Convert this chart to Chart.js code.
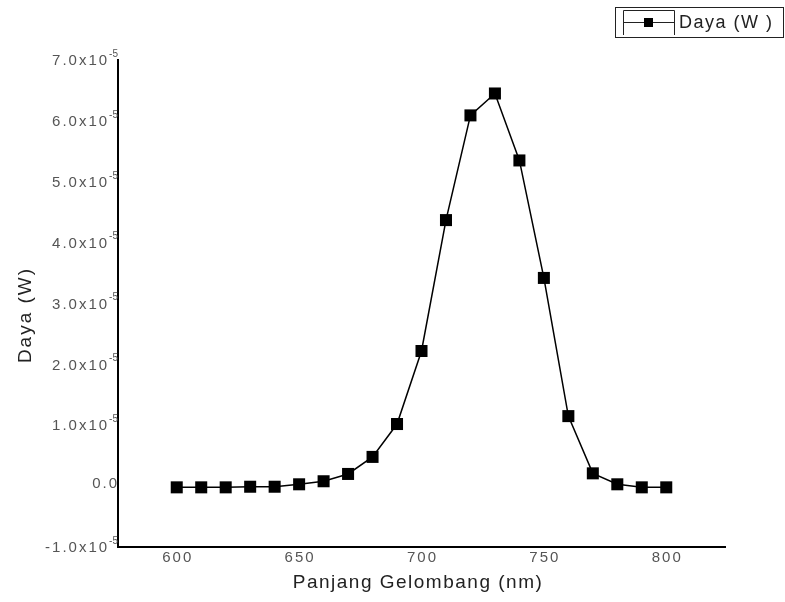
<!DOCTYPE html>
<html>
<head>
<meta charset="utf-8">
<script src="https://cdn.jsdelivr.net/npm/chart.js@4.4.1/dist/chart.umd.min.js"></script>
<style>
  html, body { margin: 0; padding: 0; background: #fff; }
  #wrap { width: 785px; height: 602px; }
</style>
</head>
<body>
<div id="wrap"><canvas id="chart" width="785" height="602"></canvas></div>
<script>
// wavelength in nm
const wavelengths = [600, 610, 620, 630, 640, 650, 660, 670, 680, 690, 700,
                     710, 720, 730, 740, 750, 760, 770, 780, 790, 800];
// power in W
const power = [-2e-7, -2e-7, -2e-7, -1e-7, -1e-7, 3e-7, 8e-7, 2.0e-6, 4.8e-6, 1.02e-5, 2.22e-5,
               4.37e-5, 6.09e-5, 6.45e-5, 5.35e-5, 3.42e-5, 1.15e-5, 2.1e-6, 3e-7, -2e-7, -2e-7];

// axis ticks
const xTicks = [600, 650, 700, 750, 800];
const yTicks = [-1e-5, 0, 1e-5, 2e-5, 3e-5, 4e-5, 5e-5, 6e-5, 7e-5];
const yTickLabels = ['-1.0x10', '0.0', '1.0x10', '2.0x10', '3.0x10', '4.0x10', '5.0x10', '6.0x10', '7.0x10'];
const yTickExp = '-5';

const seriesLabel = 'Daya (W )';
const xTitle = 'Panjang Gelombang (nm)';
const yTitle = 'Daya (W)';

const FONT = '"Liberation Sans", Arial, sans-serif';

// draws tick labels, axis titles and the boxed legend (Origin style)
const textPlugin = {
  id: 'originText',
  afterDraw(chart) {
    const ctx = chart.ctx;
    const xs = chart.scales.x, ys = chart.scales.y;
    ctx.save();

    // y tick labels with superscript exponent
    ctx.fillStyle = '#555';
    ctx.textBaseline = 'middle';
    ctx.textAlign = 'right';
    yTicks.forEach((v, i) => {
      const py = ys.getPixelForValue(v);
      const right = 117;
      if (v === 0) {
        ctx.font = '15px ' + FONT;
        ctx.letterSpacing = '2px';
        ctx.fillText(yTickLabels[i], right + 2, py - 2);
        return;
      }
      ctx.font = '10px ' + FONT;
      ctx.letterSpacing = '0px';
      const ew = ctx.measureText(yTickExp).width;
      ctx.fillText(yTickExp, right + 1, py - 6);
      ctx.font = '15px ' + FONT;
      ctx.letterSpacing = '2px';
      ctx.fillText(yTickLabels[i], right - ew + 1, py + 1);
    });

    // x tick labels
    ctx.textAlign = 'center';
    ctx.font = '15px ' + FONT;
    ctx.letterSpacing = '2px';
    xTicks.forEach(v => {
      ctx.fillText(String(v), xs.getPixelForValue(v) + 1, xs.top + 11);
    });

    // axis titles
    ctx.fillStyle = '#222';
    ctx.font = '19px ' + FONT;
    ctx.letterSpacing = '1.5px';
    ctx.fillText(xTitle, 418, 583);
    ctx.save();
    ctx.translate(26, 315);
    ctx.rotate(-Math.PI / 2);
    ctx.letterSpacing = '2px';
    ctx.fillText(yTitle, 0, 0);
    ctx.restore();

    // legend box
    ctx.strokeStyle = '#222';
    ctx.lineWidth = 1;
    ctx.strokeRect(615.5, 7.5, 168, 30);
    ctx.beginPath();
    ctx.moveTo(623.5, 35); ctx.lineTo(623.5, 10.5); ctx.lineTo(674.5, 10.5); ctx.lineTo(674.5, 35);
    ctx.moveTo(623.5, 22.5); ctx.lineTo(674.5, 22.5);
    ctx.stroke();
    ctx.fillStyle = '#000';
    ctx.fillRect(644, 18, 9, 9);
    ctx.fillStyle = '#222';
    ctx.textAlign = 'left';
    ctx.font = '18px ' + FONT;
    ctx.letterSpacing = '1.5px';
    ctx.fillText(seriesLabel, 679, 23);

    ctx.restore();
  }
};

const config = {
  type: 'line',
  data: {
    datasets: [{
      label: seriesLabel,
      data: wavelengths.map((w, i) => ({ x: w, y: power[i] })),
      borderColor: '#000',
      borderWidth: 1.5,
      backgroundColor: '#000',
      pointStyle: 'rect',
      pointRadius: 8.5,
      pointBorderWidth: 0,
      tension: 0,
      clip: false,
    }],
  },
  options: {
    responsive: false,
    animation: false,
    devicePixelRatio: 1,
    layout: { padding: { left: 0, top: 60, right: 60, bottom: 0 } },
    scales: {
      x: {
        type: 'linear',
        min: 576,
        max: 824,
        afterBuildTicks: (s) => { s.ticks = xTicks.map(v => ({ value: v })); },
        afterFit: (s) => { s.height = 55; },
        grid: { display: false },
        border: { display: true, color: '#000', width: 2 },
        ticks: { display: false },
      },
      y: {
        min: -1e-5,
        max: 7e-5,
        afterBuildTicks: (s) => { s.ticks = yTicks.map(v => ({ value: v })); },
        afterFit: (s) => { s.width = 118; },
        grid: { display: false },
        border: { display: true, color: '#000', width: 2 },
        ticks: { display: false },
      },
    },
    plugins: {
      legend: { display: false },
      tooltip: { enabled: false },
    },
  },
  plugins: [textPlugin],
};

const myChart = new Chart(document.getElementById('chart'), config);
</script>
</body>
</html>
